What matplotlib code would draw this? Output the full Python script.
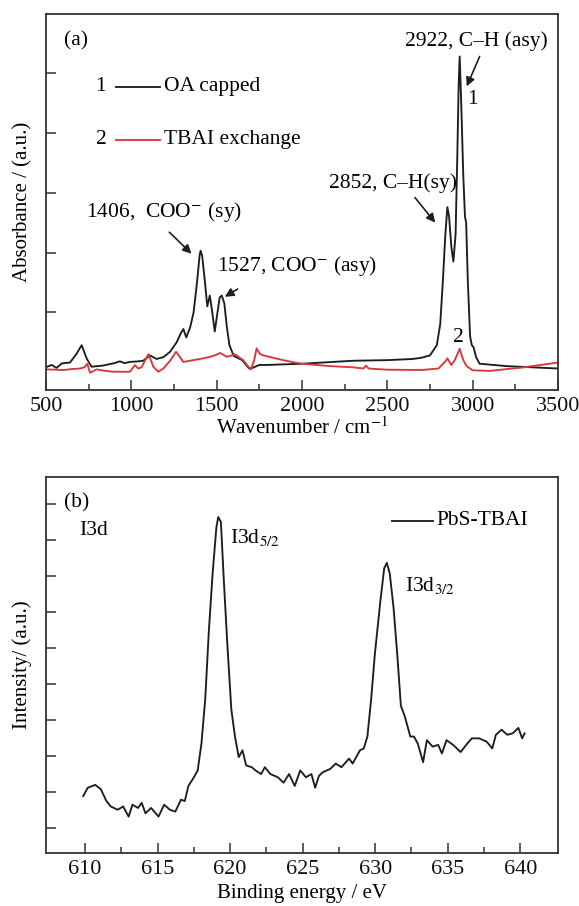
import numpy as np
import matplotlib.pyplot as plt

plt.rcParams['font.family'] = ['Liberation Serif', 'DejaVu Serif']
plt.rcParams['mathtext.fontset'] = 'stix'

# (a) FTIR spectra
wn_oa = [500, 533, 562, 592, 641, 680, 709, 738, 767, 836, 900, 933, 960, 992, 1040,
         1070, 1109, 1148, 1188, 1227, 1266, 1290, 1305, 1322, 1345, 1365, 1385, 1400,
         1406, 1415, 1430, 1445, 1460, 1472, 1489, 1505, 1518, 1530, 1545, 1560, 1575,
         1600, 1650, 1690, 1710, 1750, 1800, 2000, 2300, 2500, 2650, 2700, 2750, 2790,
         2810, 2825, 2840, 2852, 2862, 2875, 2887, 2900, 2910, 2918, 2924, 2932, 2945,
         2955, 2962, 2972, 2985, 2995, 3005, 3020, 3041, 3200, 3500]
abs_oa = [0.08, 0.12, 0.07, 0.145, 0.16, 0.31, 0.45, 0.23, 0.09, 0.11, 0.15, 0.18, 0.15,
          0.17, 0.18, 0.19, 0.28, 0.22, 0.25, 0.34, 0.5, 0.65, 0.72, 0.58, 0.75, 1.0, 1.5,
          1.95, 2.03, 1.95, 1.55, 1.1, 1.28, 1.05, 0.68, 1.0, 1.25, 1.28, 1.15, 0.75, 0.45,
          0.27, 0.2, 0.06, 0.07, 0.12, 0.12, 0.14, 0.19, 0.2, 0.22, 0.24, 0.28, 0.45,
          0.8, 1.5, 2.3, 2.76, 2.6, 2.1, 1.85, 2.3, 3.6, 4.8, 5.28, 4.6, 3.3,
          2.6, 2.5, 1.5, 0.6, 0.45, 0.42, 0.25, 0.14, 0.1, 0.06]

wn_tbai = [500, 560, 601, 650, 699, 725, 742, 758, 797, 850, 895, 992, 1021, 1040, 1060,
           1085, 1100, 1115, 1129, 1158, 1188, 1230, 1262, 1285, 1305, 1344, 1383, 1422,
           1461, 1490, 1520, 1545, 1559, 1580, 1608, 1635, 1656, 1680, 1701, 1720, 1734,
           1755, 1773, 1830, 1890, 1968, 2000, 2163, 2300, 2360, 2375, 2390, 2500, 2700,
           2800, 2840, 2852, 2875, 2895, 2924, 2945, 2965, 3000, 3100, 3200, 3300, 3400, 3500]
abs_tbai = [0.045, 0.04, 0.034, 0.05, 0.06, 0.08, 0.14, -0.01, 0.045, 0.02, 0.006, 0.006,
            0.117, 0.06, 0.08, 0.22, 0.30, 0.2, 0.09, 0.006, 0.06, 0.2, 0.34, 0.25, 0.17,
            0.19, 0.21, 0.23, 0.256, 0.28, 0.32, 0.28, 0.256, 0.27, 0.30, 0.24, 0.2, 0.11,
            0.045, 0.2, 0.396, 0.3, 0.28, 0.24, 0.2, 0.155, 0.14, 0.1, 0.08, 0.06, 0.11,
            0.06, 0.04, 0.035, 0.06, 0.18, 0.23, 0.12, 0.2, 0.39, 0.2, 0.1, 0.03, 0.02,
            0.05, 0.08, 0.12, 0.16]

# (b) XPS I3d
be = [609.87, 610.18, 610.69, 611.08, 611.47, 611.77, 612.24, 612.62, 613.0, 613.26,
      613.65, 613.9, 614.16, 614.55, 615.06, 615.45, 615.84, 616.22, 616.61, 616.87,
      617.12, 617.5, 617.76, 618.02, 618.28, 618.53, 618.79, 619.05, 619.18, 619.36,
      619.56, 619.82, 620.08, 620.33, 620.59, 620.85, 621.1, 621.49, 621.75, 622.13,
      622.39, 622.77, 623.29, 623.68, 624.06, 624.45, 624.83, 625.22, 625.6, 625.86,
      626.12, 626.38, 626.89, 627.28, 627.67, 628.2, 628.44, 628.95, 629.21, 629.46,
      629.72, 629.97, 630.36, 630.62, 630.8, 631.0, 631.26, 631.52, 631.77, 632.03,
      632.42, 632.67, 632.93, 633.3, 633.56, 633.96, 634.34, 634.6, 634.91, 635.37,
      635.89, 636.27, 636.66, 637.17, 637.68, 638.07, 638.32, 638.71, 639.1, 639.48,
      639.87, 640.13, 640.3]
intensity = [0.90, 1.13, 1.21, 1.09, 0.76, 0.61, 0.52, 0.61, 0.33, 0.66,
             0.57, 0.71, 0.42, 0.57, 0.33, 0.66, 0.52, 0.47, 0.80, 0.76,
             1.18, 1.42, 1.61, 2.36, 3.59, 5.48, 7.08, 8.36, 8.64, 8.50,
             6.89, 5.0, 3.3, 2.55, 1.98, 2.17, 1.75, 1.70, 1.61, 1.51,
             1.70, 1.51, 1.42, 1.27, 1.51, 1.18, 1.61, 1.42, 1.51, 1.13,
             1.46, 1.56, 1.65, 1.80, 1.70, 1.94, 1.80, 2.17, 2.22, 2.55,
             3.59, 4.82, 6.33, 7.22, 7.37, 7.08, 6.14, 4.82, 3.40, 3.12,
             2.55, 2.55, 2.36, 1.84, 2.45, 2.27, 2.32, 2.08, 2.45, 2.32,
             2.12, 2.32, 2.50, 2.50, 2.41, 2.22, 2.60, 2.74, 2.60, 2.64,
             2.79, 2.50, 2.64]

red = '#d8373b'
dark = '#1e1e1e'
spine_c = '#333333'
lw = 1.35

fig = plt.figure(figsize=(5.79, 9.06), dpi=100)
ax1 = fig.add_axes([0.0794, 0.5695, 0.8843, 0.4150])
ax2 = fig.add_axes([0.0794, 0.0585, 0.8843, 0.4150])

for ax in (ax1, ax2):
    for s in ax.spines.values():
        s.set_color(spine_c)
        s.set_linewidth(1.3)
    ax.tick_params(which='both', direction='in', top=False, right=False,
                   labelsize=16, colors=spine_c, labelcolor='#111111')
    ax.tick_params(which='major', length=7, width=1.1, pad=5)
    ax.tick_params(which='minor', length=4, width=1.1)
    ax.tick_params(axis='y', labelleft=False)

ax1.plot(wn_oa, abs_oa, color=dark, lw=lw)
ax1.plot(wn_tbai, abs_tbai, color=red, lw=lw)
ax1.set_xlim(500, 3500)
ax1.set_ylim(-0.30, 5.99)
ax1.set_xticks([500, 1000, 1500, 2000, 2500, 3000, 3500])
ax1.set_xticks(np.arange(750, 3500, 500), minor=True)
ax1.set_yticks([1, 2, 3, 4, 5])
ax1.set_xlabel('Wavenumber / cm$^{-1}$', fontsize=15, labelpad=1)
ax1.set_ylabel('Absorbance / (a.u.)', fontsize=15, labelpad=10)

fs = 15.5
ax1.text(0.035, 0.93, '(a)', transform=ax1.transAxes, fontsize=fs, va='center')
ax1.text(822, 4.77, '1', fontsize=fs, ha='center', va='center')
ax1.plot([909, 1169], [4.77, 4.77], color=dark, lw=lw)
ax1.text(1190, 4.77, 'OA capped', fontsize=fs, va='center')
ax1.text(822, 3.89, '2', fontsize=fs, ha='center', va='center')
ax1.plot([909, 1169], [3.89, 3.89], color=red, lw=lw)
ax1.text(1190, 3.89, 'TBAI exchange', fontsize=fs, va='center')

ax1.text(3020, 5.53, '2922, C\u2013H (asy)', fontsize=fs, ha='center', va='center')
ax1.text(2998, 4.56, '1', fontsize=fs, ha='center', va='center')
ax1.text(2532, 3.16, '2852, C\u2013H(sy)', fontsize=fs, ha='center', va='center')
ax1.text(1190, 2.67, '1406,  COO$^{-}$ (sy)', fontsize=fs, ha='center', va='center')
ax1.text(1970, 1.78, '1527, COO$^{-}$ (asy)', fontsize=fs, ha='center', va='center')
ax1.text(2918, 0.58, '2', fontsize=fs, ha='center', va='center')

arrows = [((3041, 5.28), (2965, 4.78)),
          ((2662, 2.92), (2781, 2.50)),
          ((1223, 2.34), (1353, 1.98)),
          ((1623, 1.39), (1548, 1.26))]
for tail, head in arrows:
    ax1.annotate('', xy=head, xytext=tail,
                 arrowprops=dict(arrowstyle='-|>', color=dark, lw=1.2,
                                 mutation_scale=13, shrinkA=0, shrinkB=0))

ax2.plot(be, intensity, color=dark, lw=lw)
ax2.set_xlim(607.3, 642.6)
ax2.set_ylim(-0.68, 9.75)
ax2.set_xticks([610, 615, 620, 625, 630, 635, 640])
ax2.set_xticks(np.arange(612.5, 640, 5), minor=True)
ax2.set_yticks(range(0, 10))
ax2.set_xlabel('Binding energy / eV', fontsize=15, labelpad=4)
ax2.set_ylabel('Intensity/ (a.u.)', fontsize=15, labelpad=10)

ax2.text(0.035, 0.93, '(b)', transform=ax2.transAxes, fontsize=fs, va='center')
ax2.text(610.56, 8.26, 'I3d', fontsize=fs, ha='center', va='center')
ax2.text(620.0, 8.07, 'I3d$_{5/2}$', fontsize=fs, va='center')
ax2.text(632.03, 6.75, 'I3d$_{3/2}$', fontsize=fs, va='center')
ax2.plot([631.13, 633.96], [8.53, 8.53], color=dark, lw=lw)
ax2.text(634.2, 8.53, 'PbS-TBAI', fontsize=fs, va='center')

fig.savefig('out.png', dpi=100)
